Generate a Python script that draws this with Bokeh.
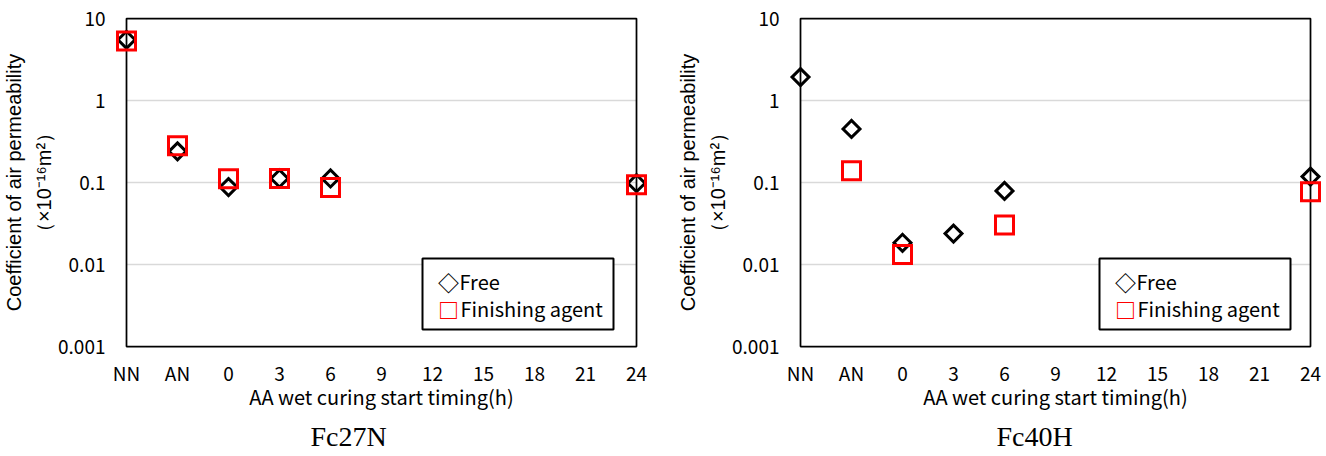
import math
from bokeh.plotting import figure
from bokeh.layouts import row
from bokeh.models import Range1d, FixedTicker, Label, BoxAnnotation, Title
from bokeh.embed import file_html
from bokeh.resources import INLINE

# ---------------- data ----------------
x_positions = [-6, -3, 0, 3, 6, 24]          # NN, AN, 0h, 3h, 6h, 24h
x_tick_values = [-6, -3, 0, 3, 6, 9, 12, 15, 18, 21, 24]
x_tick_labels = ["NN", "AN", "0", "3", "6", "9", "12", "15", "18", "21", "24"]
y_tick_values = [0.001, 0.01, 0.1, 1, 10]
y_tick_labels = ["0.001", "0.01", "0.1", "1", "10"]

fc27n_free = [5.5, 0.24, 0.088, 0.112, 0.112, 0.098]
fc27n_finishing = [5.3, 0.28, 0.111, 0.112, 0.087, 0.094]
fc40h_free = [1.93, 0.45, 0.0184, 0.0238, 0.079, 0.118]
fc40h_finishing = [None, 0.139, 0.0132, None, 0.0303, 0.077]

panel_titles = ["Fc27N", "Fc40H"]
series_names = ["Free", "Finishing agent"]
x_title = "AA wet curing start timing(h)"
y_title = "Coefficient of air permeability\n（×10⁻¹⁶m²）"

# ---------------- styling / layout ----------------
FONT = "Noto Sans CJK JP"
PX_PER_UNIT = 17.0
X_MARGIN = 12 / PX_PER_UNIT
PX_PER_DEC = 82.0
Y_MARGIN = 2 / PX_PER_DEC
FRAME_W = int(round((30 + 2 * X_MARGIN) * PX_PER_UNIT))
FRAME_H = int(round((4 + 2 * Y_MARGIN) * PX_PER_DEC))


def pairs(xs, ys):
    px, py = [], []
    for a, b in zip(xs, ys):
        if b is not None:
            px.append(a)
            py.append(b)
    return px, py


def make_panel(free, finishing, title, border_left, border_right, legend_dx, title_dx):
    p = figure(
        frame_width=FRAME_W, frame_height=FRAME_H,
        min_border_left=border_left, min_border_right=border_right,
        min_border_top=16, min_border_bottom=100,
        y_axis_type="log",
        x_range=Range1d(x_tick_values[0] - X_MARGIN, x_tick_values[-1] + X_MARGIN),
        y_range=Range1d(10 ** (math.log10(y_tick_values[0]) - Y_MARGIN),
                        10 ** (math.log10(y_tick_values[-1]) + Y_MARGIN)),
        output_backend="svg", toolbar_location=None,
    )
    p.outline_line_color = None
    p.background_fill_color = "white"
    p.border_fill_color = "white"
    p.xgrid.visible = False
    p.ygrid.visible = False

    # axes
    p.xaxis.ticker = FixedTicker(ticks=x_tick_values, minor_ticks=[])
    p.xaxis.major_label_overrides = {v: l for v, l in zip(x_tick_values, x_tick_labels)}
    p.yaxis.ticker = FixedTicker(ticks=y_tick_values, minor_ticks=[])
    p.yaxis.major_label_overrides = {v: l for v, l in zip(y_tick_values, y_tick_labels)}
    for ax in (p.xaxis[0], p.yaxis[0]):
        ax.axis_line_color = None
        ax.major_tick_line_color = None
        ax.minor_tick_line_color = None
        ax.major_tick_out = 0
        ax.major_tick_in = 0
        ax.major_label_text_font = FONT
        ax.major_label_text_font_size = "19px"
        ax.major_label_text_color = "black"
    p.xaxis.major_label_standoff = 10
    p.yaxis.major_label_standoff = 9
    p.xaxis.axis_label = x_title
    p.xaxis.axis_label_text_font = FONT
    p.xaxis.axis_label_text_font_size = "20px"
    p.xaxis.axis_label_text_font_style = "normal"
    p.xaxis.axis_label_text_color = "black"
    p.xaxis.axis_label_standoff = -7

    p.yaxis.axis_label = y_title
    p.yaxis.axis_label_text_font = "Liberation Sans"
    p.yaxis.axis_label_text_font_size = "20px"
    p.yaxis.axis_label_text_font_style = "normal"
    p.yaxis.axis_label_text_color = "black"
    p.yaxis.axis_label_text_line_height = 1.35
    p.yaxis.axis_label_standoff = 0

    # gridlines inside the plot box
    inner = y_tick_values[1:-1]
    p.segment(x0=[x_tick_values[0]] * len(inner), x1=[x_tick_values[-1]] * len(inner),
              y0=inner, y1=inner, line_color="#d9d9d9", line_width=1.5)
    # plot box
    p.quad(left=[x_tick_values[0]], right=[x_tick_values[-1]],
           bottom=[y_tick_values[0]], top=[y_tick_values[-1]],
           fill_color=None, line_color="black", line_width=1.75)

    fx, fy = pairs(x_positions, free)
    p.scatter(fx, fy, marker="square", angle=math.pi / 4, size=12,
              fill_color=None, line_color="black", line_width=3, line_join="miter")
    gx, gy = pairs(x_positions, finishing)
    p.scatter(gx, gy, marker="square", size=18,
              fill_color=None, line_color="#ff0000", line_width=3, line_join="miter")

    # legend (text-box style)
    p.add_layout(BoxAnnotation(left=308 + legend_dx, right=499 + legend_dx, top=90, bottom=19,
                               left_units="screen", right_units="screen",
                               top_units="screen", bottom_units="screen",
                               fill_color="white", fill_alpha=1.0,
                               line_color="black", line_width=2, line_alpha=1.0))
    p.add_layout(Label(x=334 + legend_dx, y=67, x_units="screen", y_units="screen", text="◇",
                       text_font=FONT, text_font_size="21px", text_font_style="bold",
                       text_color="black", text_align="center", text_baseline="middle"))
    p.add_layout(Label(x=345 + legend_dx, y=67, x_units="screen", y_units="screen", text=series_names[0],
                       text_font=FONT, text_font_size="20px", text_color="black",
                       text_align="left", text_baseline="middle"))
    p.add_layout(Label(x=334 + legend_dx, y=40, x_units="screen", y_units="screen", text="□",
                       text_font=FONT, text_font_size="21px", text_font_style="bold",
                       text_color="#ff0000", text_align="center", text_baseline="middle"))
    p.add_layout(Label(x=346 + legend_dx, y=40, x_units="screen", y_units="screen", text=series_names[1],
                       text_font=FONT, text_font_size="20px", text_color="black",
                       text_align="left", text_baseline="middle"))

    # panel caption below the x axis
    p.add_layout(Title(text=title, align="left", offset=title_dx,
                       text_font="Liberation Serif", text_font_size="28px",
                       text_font_style="normal", text_color="black", standoff=10), "below")
    return p


p1 = make_panel(fc27n_free, fc27n_finishing, panel_titles[0], 110, 15, 0, 196)
p2 = make_panel(fc40h_free, fc40h_finishing, panel_titles[1], 125, 0, 3, 208)

layout = row(p1, p2)
open("out.html", "w").write(file_html(layout, INLINE, title="Air permeability"))
